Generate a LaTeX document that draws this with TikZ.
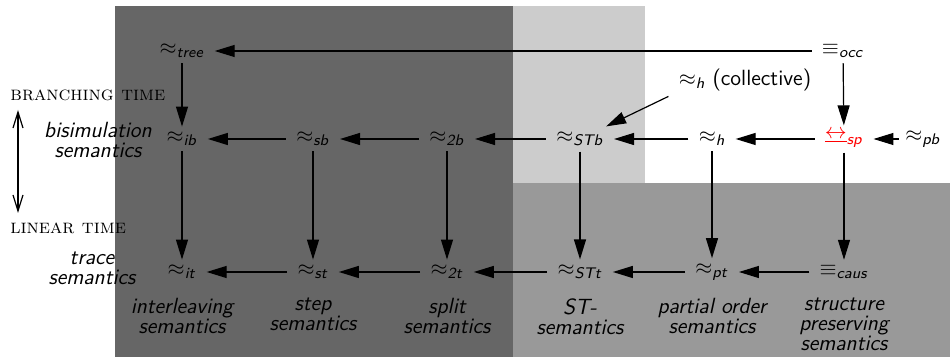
\documentclass[tikz,border=0pt]{standalone}
\usepackage{amsmath,amssymb}
\usepackage{xcolor}
\usetikzlibrary{arrows.meta, positioning}

\newcommand{\semidx}[1]{\textsf{\textit{#1}}}

\begin{document}
\begin{tikzpicture}[
        x=0.5pt, y=-0.5pt,
        eq node/.style={inner xsep=5pt, inner ysep=2.5pt, font=\fontsize{11}{10}\selectfont\sffamily},
        sem label/.style={align=center, inner sep=0pt, font=\fontsize{11}{10}\selectfont\sffamily\itshape},
        time label/.style={inner sep=0pt, font=\rmfamily\scshape},
        every edge/.style={draw, -{Triangle[length=10pt, width=6pt]}, semithick}
      ]
      % Regions
      \fill[black!60] (115,6) rectangle (513,357);
      \fill[black!20] (513,6) rectangle (645,183);
      \fill[black!40] (513,183) rectangle (950,357);
      \useasboundingbox (0,0) rectangle (950,357);

      % Nodes
      \node[eq node] (tree) at (182,51) {$\approx_{\semidx{tree}}$};
      \node[eq node] (occ) at (843,51) {$\equiv_{\semidx{occ}}$};
      \node[eq node] (coll) at (745,80) {$\approx_{\semidx{h}}$ (collective)};

      \node[eq node] (ib) at (182,139) {$\approx_{\semidx{ib}}$};
      \node[eq node] (sb) at (313,139) {$\approx_{\semidx{sb}}$};
      \node[eq node] (2b) at (447,139) {$\approx_{\semidx{2b}}$};
      \node[eq node] (STb) at (580,139) {$\approx_{\semidx{STb}}$};
      \node[eq node] (h) at (712,139) {$\approx_{\semidx{h}}$};
      \node[eq node, text=red] (sp) at (844,139) {$\underline{\leftrightarrow}_{\semidx{sp}}$};
      \node[eq node, inner xsep=3pt] (pb) at (923,139) {$\approx_{\semidx{pb}}$};

      \node[eq node] (it) at (182,272) {$\approx_{\semidx{it}}$};
      \node[eq node] (st) at (313,272) {$\approx_{\semidx{st}}$};
      \node[eq node] (2t) at (447,272) {$\approx_{\semidx{2t}}$};
      \node[eq node] (STt) at (580,272) {$\approx_{\semidx{STt}}$};
      \node[eq node] (pt) at (712,272) {$\approx_{\semidx{pt}}$};
      \node[eq node] (caus) at (844,272) {$\equiv_{\semidx{caus}}$};

      % Semantics labels
      \node[sem label, below=13pt of it.center] (itlab) {interleaving\\semantics};
      \node[sem label, below=13pt of st.center] (stlab) {step\\semantics};
      \node[sem label, below=13pt of 2t.center] (2tlab) {split\\semantics};
      \node[sem label, below=13pt of STt.center] (STtlab) {ST-\\semantics};
      \node[sem label, below=13pt of pt.center] (ptlab) {partial order\\semantics};
      \node[sem label, below=13pt of caus.center] (causlab) {structure\\preserving\\semantics};

      \node[sem label] (bisim) at (98,140) {bisimulation\\semantics};
      \node[sem label] (trace) at (92,268) {trace\\semantics};

      % Time axis
      \node[time label, anchor=west] (branching) at (10,95) {branching time};
      \node[time label, anchor=west] (linear) at (10,228) {linear time};
      \coordinate (up) at (18,110);
      \coordinate (down) at (18,213);
      \draw[semithick, {Straight Barb[length=8pt, width=5pt]}-{Straight Barb[length=8pt, width=5pt]}] (up) -- (down);

      % Edges
      \draw (occ) edge (tree);
      \draw (occ) edge (sp);
      \draw (tree) edge (ib);
      \draw (coll.south west) edge (STb);

      \draw (pb) edge (sp);
      \draw (sp) edge (h);
      \draw (h) edge (STb);
      \draw (STb) edge (2b);
      \draw (2b) edge (sb);
      \draw (sb) edge (ib);

      \draw (ib) edge (it);
      \draw (sb) edge (st);
      \draw (2b) edge (2t);
      \draw (STb) edge (STt);
      \draw (h) edge (pt);
      \draw (sp) edge (caus);

      \draw (caus) edge (pt);
      \draw (pt) edge (STt);
      \draw (STt) edge (2t);
      \draw (2t) edge (st);
      \draw (st) edge (it);
    \end{tikzpicture}
\end{document}
